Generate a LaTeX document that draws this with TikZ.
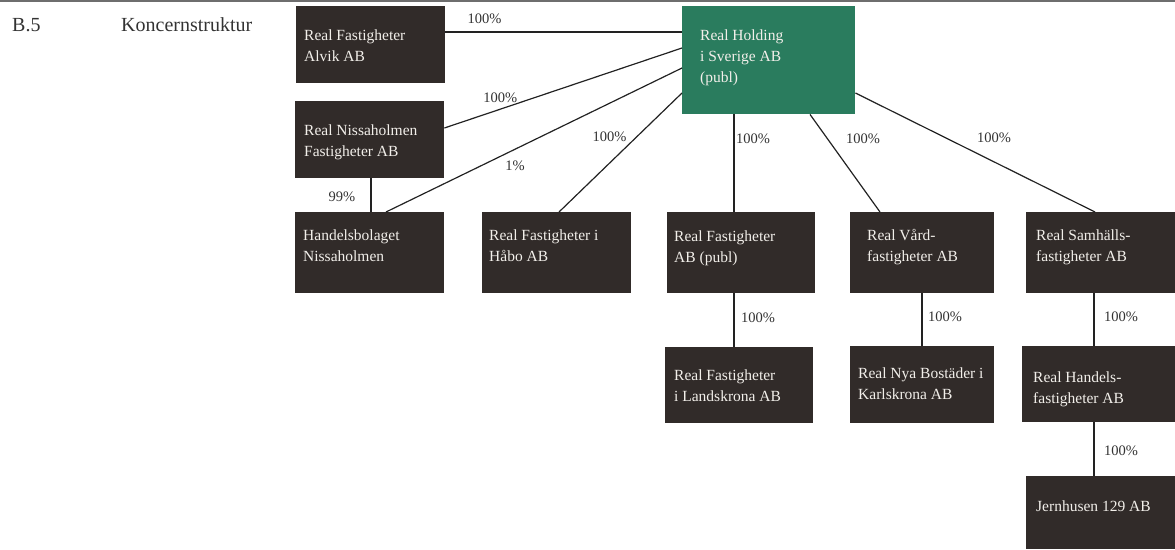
\documentclass[tikz,border=0pt]{standalone}
\usepackage{fontspec}
\setmainfont{Liberation Serif}
\usetikzlibrary{calc}
\definecolor{boxc}{HTML}{312B29}
\definecolor{holdc}{HTML}{2A7C5E}
\definecolor{boxtext}{HTML}{F2EFEA}
\definecolor{linec}{HTML}{222222}
\definecolor{lblc}{HTML}{333333}
\definecolor{rulec}{HTML}{6E6E6E}
\newcommand{\bxt}[5]{\parbox[b][#2pt][t]{#1pt}{\leftskip=#3pt\rightskip=0pt plus 1fil\parindent=0pt\rule{0pt}{#4pt}#5}}
\tikzset{
  orgbox/.style={fill=boxc, text=boxtext, inner sep=0pt, anchor=north west, font=\fontsize{15.5}{21}\selectfont},
  holdbox/.style={orgbox, fill=holdc},
  conn/.style={draw=linec, line width=1.2pt},
  lbl/.style={text=lblc, font=\fontsize{14.5}{16}\selectfont, inner sep=0pt},
  hdr/.style={anchor=base west, inner sep=0pt, text=lblc, font=\fontsize{20}{22}\selectfont}
}
\begin{document}
\begin{tikzpicture}[x=1pt,y=-1pt]
\useasboundingbox (0,0) rectangle (1175,549);
\draw[rulec, line width=2.5pt] (0,1) -- (1175,1);
\node[hdr] (sec) at (12,31) {B.5};
\node[hdr] (title) at (121,31) {Koncernstruktur};

\node[orgbox] (alvik) at (296,6) {\bxt{149}{77}{8}{34}{Real Fastigheter\newline Alvik AB}};
\node[orgbox] (niss) at (295,101) {\bxt{149}{77}{9}{34}{Real Nissaholmen\newline Fastigheter AB}};
\node[orgbox] (handel) at (295,212) {\bxt{149}{81}{8}{28}{Handelsbolaget\newline Nissaholmen}};
\node[orgbox] (habo) at (482,212) {\bxt{149}{81}{7}{28}{Real Fastigheter i\newline Håbo AB}};
\node[holdbox] (holding) at (682,6) {\bxt{173}{108}{18}{34}{Real Holding\newline i Sverige AB\newline (publ)}};
\node[orgbox] (rfab) at (667,212) {\bxt{148}{81}{7}{29}{Real Fastigheter\newline AB (publ)}};
\node[orgbox] (vard) at (850,212) {\bxt{144}{81}{17}{28}{Real Vård-\newline fastigheter AB}};
\node[orgbox] (samh) at (1026,212) {\bxt{149}{81}{10}{28}{Real Samhälls-\newline fastigheter AB}};
\node[orgbox] (landsk) at (665,347) {\bxt{148}{76}{9}{33}{Real Fastigheter\newline i Landskrona AB}};
\node[orgbox] (karls) at (850,346) {\bxt{144}{77}{8}{32}{Real Nya Bostäder i\newline Karlskrona AB}};
\node[orgbox] (handels) at (1022,346) {\bxt{153}{76}{11}{36}{Real Handels-\newline fastigheter AB}};
\node[orgbox] (jern) at (1026,476) {\bxt{149}{73}{10}{35}{Jernhusen 129 AB}};

\draw[conn] ($(alvik.north east)+(0,26)$) -- ($(holding.north west)+(0,26)$) node[lbl,pos=0.165,yshift=13pt] (p1) {100\%};
\draw[conn] ($(niss.north east)+(0,27)$) -- ($(holding.north west)+(0,42)$) node[lbl,pos=0.235,yshift=11pt] (p2) {100\%};
\draw[conn] ($(handel.north west)+(91,0)$) -- ($(holding.north west)+(0,62)$) node[lbl,pos=0.436,yshift=-17pt] (p3) {1\%};
\draw[conn] ($(habo.north west)+(77,0)$) -- ($(holding.north west)+(0,87)$) node[lbl,pos=0.63,xshift=-27pt] (p4) {100\%};
\draw[conn] ($(holding.south west)+(52,0)$) -- ($(rfab.north west)+(67,0)$) node[lbl,pos=0.245,xshift=19pt] (p5) {100\%};
\draw[conn] ($(holding.south west)+(128,0)$) -- ($(vard.north west)+(30,0)$) node[lbl,pos=0.245,xshift=36pt] (p6) {100\%};
\draw[conn] ($(holding.north east)+(0,87)$) -- ($(samh.north west)+(69,0)$) node[lbl,pos=0.579,yshift=24pt] (p7) {100\%};
\draw[conn] ($(niss.south west)+(76,0)$) -- ($(handel.north west)+(76,0)$) node[lbl,pos=0.56,xshift=-29pt] (p8) {99\%};
\draw[conn] ($(rfab.south west)+(67,0)$) -- ($(landsk.north west)+(69,0)$) node[lbl,pos=0.46,xshift=24pt] (p9) {100\%};
\draw[conn] ($(vard.south west)+(72,0)$) -- ($(karls.north west)+(72,0)$) node[lbl,pos=0.45,xshift=23pt] (p10) {100\%};
\draw[conn] ($(samh.south west)+(68,0)$) -- ($(handels.north west)+(72,0)$) node[lbl,pos=0.45,xshift=27pt] (p11) {100\%};
\draw[conn] ($(handels.south west)+(72,0)$) -- ($(jern.north west)+(68,0)$) node[lbl,pos=0.52,xshift=27pt] (p12) {100\%};
\end{tikzpicture}
\end{document}
